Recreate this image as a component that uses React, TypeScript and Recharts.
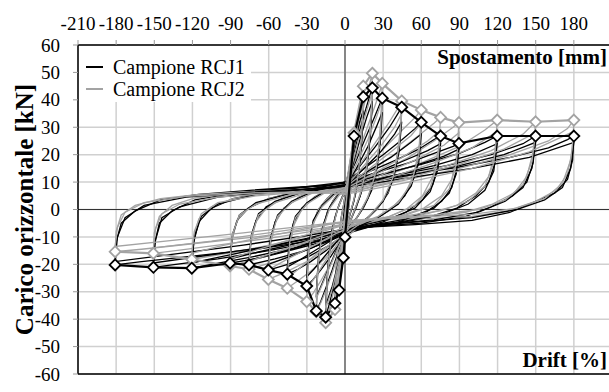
import { LineChart, Line, XAxis, YAxis, CartesianGrid, ReferenceLine, Legend } from "recharts";

type Pt = [number, number];

const serif = '"Liberation Serif", "Times New Roman", serif';

// displacement [mm] on the top axis, drift [%] on the bottom one, load [kN]
const mmTicks = [-210, -180, -150, -120, -90, -60, -30, 0, 30, 60, 90, 120, 150, 180];
const driftTicks = [-7, -6, -5, -4, -3, -2, -1, 0, 1, 2, 3, 4, 5, 6];
const loadTicks = [-60, -50, -40, -30, -20, -10, 0, 10, 20, 30, 40, 50, 60];

const specimens = ["Campione RCJ1", "Campione RCJ2"];
const colors = ["#000000", "#a3a3a3"];

// peak envelopes (mm, kN)
const rcj1Envelope: Pt[] = [
  [-180.8, -20.2], [-150.7, -21.1], [-120.5, -21.4], [-90.4, -19.6], [-75.5, -20.2],
  [-60.3, -22.1], [-45.4, -23.6], [-30.1, -27.9], [-22.6, -37], [-15.2, -39.3],
  [-7.9, -34.2], [-4.7, -29.4], [-1.3, -17.6], [0, -10.1], [7.1, 26.8], [14.4, 41.1],
  [21.5, 44.4], [29.3, 40.6], [44.6, 37.3], [60, 31.8], [75.2, 26.8], [89.6, 24.1],
  [119.7, 26.8], [149.9, 26.8], [180, 26.8],
];

const rcj2Envelope: Pt[] = [
  [-180.8, -15.4], [-150.7, -16], [-120.5, -18.2], [-90.4, -20.6], [-75.5, -21.8],
  [-60.3, -25.5], [-45.4, -28.7], [-30.1, -33.6], [-22.6, -37.3], [-15.2, -41.3],
  [-7.9, -36.5], [7.1, 28], [14.4, 45], [21.5, 49.7], [29.3, 46], [44.6, 39.6],
  [60, 36.3], [75.2, 33.6], [89.6, 31.7], [119.7, 32.6], [149.9, 32], [180, 32.6],
];

// first cycle at each drift level
const rcj1Loops: Pt[][] = [
  [[0, 3], [2, 8], [4, 13], [3, 6], [1.5, 0], [0, -5], [-1.5, -12], [-3, -20], [-4.7, -29.4], [-3.5, -17], [-2, -6], [-0.5, 0], [0, 3]],
  [[0, 5], [2, 11], [4, 17], [5.8, 22.5], [7.1, 26.8], [6.3, 17], [4.8, 8], [3, 1], [1, -5], [-1.5, -13], [-4, -21], [-6, -28], [-7.9, -34.2], [-6.8, -21], [-5, -10], [-3, -3], [-1, 2], [0, 5]],
  [[0, 7], [3, 14], [6.5, 23], [10, 31.5], [12.5, 37.5], [14.4, 41.1], [13.5, 28], [11.5, 16], [8.5, 6], [5, 0], [2, -5], [-1, -11], [-4.5, -19], [-8, -26.5], [-11.5, -33], [-15.2, -39.3], [-14, -25], [-11.5, -12], [-8, -3], [-4.5, 2], [-1.5, 5.5], [0, 7]],
  [[0, 8.5], [5, 17], [11, 28], [16, 36], [19.5, 41.5], [21.5, 44.4], [20.5, 31], [18, 18], [14, 8], [9, 1], [4, -4.5], [0, -9], [-5, -15], [-10, -22], [-15, -28.5], [-19, -33.5], [-22.6, -37], [-21.5, -22], [-18.5, -9], [-14, -1], [-9, 3.5], [-4, 6.5], [0, 8.5]],
  [[0, 9], [8, 17], [16, 26], [23, 33.5], [27, 38], [29.3, 40.6], [28, 28], [25.5, 16], [21, 7], [15, 1], [8, -4], [2, -8], [-4, -12], [-11, -17], [-19, -22], [-25, -25.5], [-30.1, -27.9], [-29, -16], [-26, -6], [-21, 0], [-14, 4], [-7, 7], [-2, 8.5], [0, 9]],
  [[0, 9.5], [12, 16], [24, 23], [35, 30], [41, 34.5], [44.6, 37.3], [43, 25], [39.5, 14], [34, 6], [25, 0], [14, -4.5], [4, -8], [-5, -11], [-15, -15], [-27, -19], [-37, -21.8], [-45.4, -23.6], [-44, -13], [-40.5, -5], [-34, 0.5], [-24, 4.5], [-12, 7.5], [-3, 9], [0, 9.5]],
  [[0, 10], [15, 15], [30, 20], [45, 25.5], [55, 29.5], [60, 31.8], [58.5, 21], [54.5, 12], [47, 5], [36, 0], [22, -4], [8, -7], [0, -9.5], [-12, -13], [-28, -17], [-45, -20], [-60.3, -22.1], [-59, -12], [-55, -4.5], [-48, 0.5], [-36, 4.5], [-20, 7.5], [-6, 9.2], [0, 10]],
  [[0, 10], [20, 14], [40, 18], [58, 22], [70, 25.5], [75.2, 26.8], [73.5, 17], [69, 9], [61, 3.5], [48, -1], [30, -4.5], [10, -7], [0, -9], [-15, -12], [-35, -15.5], [-55, -18], [-75.5, -20.2], [-74, -11], [-70, -4], [-62, 1], [-47, 4.5], [-28, 7], [-10, 8.8], [0, 10]],
  [[0, 10], [25, 13.5], [50, 17], [70, 20.5], [85, 23], [89.6, 24.1], [88, 15], [84, 8], [76, 3], [62, -1.5], [42, -4.5], [18, -6.5], [3, -8.5], [-15, -11.5], [-40, -14.5], [-65, -17.5], [-90.4, -19.6], [-89, -11], [-85, -4], [-76, 0.5], [-60, 4], [-38, 6.5], [-15, 8.5], [0, 10]],
  [[0, 9.5], [30, 13], [60, 16.5], [90, 20.5], [110, 24.5], [119.7, 26.8], [118, 17], [113, 10], [103, 5], [88, 0.5], [65, -3], [35, -5.5], [8, -7], [-10, -10], [-40, -14], [-75, -17.5], [-105, -20], [-120.5, -21.4], [-119, -12], [-115, -4.5], [-105, 0.5], [-88, 4], [-60, 6.5], [-30, 8.3], [0, 10]],
  [[0, 9], [40, 12.5], [80, 16], [115, 20], [140, 24], [149.9, 26.8], [148, 17], [143, 10], [132, 5], [115, 1], [95, -2.5], [60, -5], [20, -6.2], [3, -8], [-20, -11.5], [-60, -15], [-100, -18], [-130, -19.8], [-150.7, -21.1], [-150, -13], [-146, -5], [-136, -0.5], [-118, 3.5], [-90, 5.8], [-55, 7.3], [-20, 8.5], [0, 9.5]],
  [[0, 9], [40, 12], [90, 15.5], [130, 19], [160, 22.5], [175, 25.5], [180, 26.8], [179, 18], [175, 11], [165, 6], [150, 3], [130, -1], [100, -4], [55, -5.5], [15, -6.5], [3, -8], [-20, -11], [-70, -14.5], [-120, -17], [-160, -19], [-180.8, -20.2], [-180, -12], [-176, -5], [-165, -0.5], [-145, 3.5], [-115, 5.5], [-75, 7], [-35, 8.2], [-5, 9], [0, 9]],
];

// repeated cycle at each level, slightly degraded
const rcj1Repeats: Pt[][] = [
  [[0, 6], [4, 15], [8, 25], [11.5, 32], [14.4, 36], [13, 24], [10.5, 12], [7, 3], [3, -3], [-1, -10], [-5, -19], [-10, -28], [-15.2, -35], [-13.5, -21], [-10.5, -8], [-6, 0], [-2, 4.5], [0, 6]],
  [[0, 7.5], [6, 16], [12, 26], [17, 33.5], [21.5, 39.5], [20, 27], [17, 14], [12, 5], [6, -2], [0, -8], [-6, -14], [-12, -20.5], [-18, -27], [-22.6, -32], [-21, -18], [-17.5, -6], [-12, 1], [-5, 5.5], [0, 7.5]],
  [[0, 8], [9, 15], [18, 23], [25, 30.5], [29.3, 35.5], [27.5, 23], [24, 12], [18, 4], [10, -2.5], [2, -7], [-6, -11.5], [-15, -16.5], [-24, -21.5], [-30.1, -24.5], [-28.5, -13], [-25, -4], [-18, 1.5], [-9, 5.5], [0, 8]],
  [[0, 8.5], [14, 14.5], [28, 21], [39, 27.5], [44.6, 32], [42.5, 21], [38, 11], [30, 3], [18, -3], [5, -7], [-8, -10.5], [-22, -14.5], [-36, -18.5], [-45.4, -21], [-43.5, -10], [-39, -2.5], [-30, 2.5], [-16, 6.5], [0, 8.5]],
  [[0, 9], [18, 14], [36, 19], [52, 24.5], [60, 27.5], [58, 17], [52, 8.5], [42, 2], [26, -3], [9, -6.5], [-8, -10], [-26, -14], [-45, -17.5], [-60.3, -20], [-58.5, -10], [-53, -2], [-42, 3], [-24, 6.8], [0, 9]],
  [[0, 9], [22, 13], [45, 17.5], [65, 21.5], [75.2, 24], [73, 14.5], [67, 6.5], [55, 0.5], [35, -3.5], [12, -6], [-12, -10], [-35, -13.5], [-58, -16.5], [-75.5, -18.5], [-73.5, -9], [-68, -1.5], [-55, 3], [-32, 6.5], [0, 9]],
  [[0, 9], [28, 12.5], [55, 16], [78, 19.5], [89.6, 22], [87.5, 13], [82, 6], [70, 0.5], [48, -3.5], [20, -5.8], [-10, -9], [-40, -12.5], [-68, -15.5], [-90.4, -18], [-88.5, -9], [-83, -2], [-70, 2.5], [-42, 6], [0, 9]],
  [[0, 8.5], [35, 12], [70, 16], [100, 20], [119.7, 24], [117, 14], [110, 7], [97, 2], [75, -2], [40, -4.8], [5, -6.5], [-30, -10.5], [-70, -14.5], [-100, -17.5], [-120.5, -19.5], [-118.5, -10], [-113, -2.5], [-100, 2], [-70, 5.5], [-30, 7.5], [0, 8.5]],
  [[0, 8.5], [45, 12], [90, 16], [125, 20], [149.9, 24.5], [147, 15], [140, 8], [126, 3], [105, -1], [70, -3.8], [25, -5.5], [-15, -9.5], [-60, -13.5], [-105, -16.5], [-150.7, -19.5], [-149, -11], [-144, -3], [-130, 1], [-100, 4.5], [-55, 6.5], [0, 8.5]],
  [[0, 8], [50, 11.5], [100, 15], [145, 19], [180, 24.5], [177.5, 15], [171, 8], [157, 3.5], [135, 0], [100, -3], [50, -4.8], [8, -6.5], [-30, -9.5], [-80, -13], [-130, -16], [-180.8, -19], [-179, -10], [-173, -3], [-158, 1.5], [-125, 4.5], [-75, 6.3], [-25, 7.5], [0, 8]],
];

const rcj2Loops: Pt[][] = [
  [[0, 5], [2, 11.5], [4, 18], [5.8, 23.5], [7.1, 28], [6.3, 18], [4.8, 8.5], [3, 1], [1, -5.5], [-1.5, -14], [-4, -22.5], [-6, -30], [-7.9, -36.5], [-6.8, -22], [-5, -10.5], [-3, -3], [-1, 2], [0, 5]],
  [[0, 7], [3, 15], [6.5, 25], [10, 34], [12.5, 40.5], [14.4, 45], [13.5, 30], [11.5, 17], [8.5, 6.5], [5, 0], [2, -5.5], [-1, -12], [-4.5, -20], [-8, -28], [-11.5, -35], [-15.2, -41.3], [-14, -26], [-11.5, -13], [-8, -3.5], [-4.5, 2], [-1.5, 5.3], [0, 7]],
  [[0, 8], [5, 18], [11, 30], [16, 40], [19.5, 46], [21.5, 49.7], [20.5, 34], [18, 20], [14, 9], [9, 1.5], [4, -4.5], [0, -9.5], [-5, -16], [-10, -23], [-15, -29.5], [-19, -34], [-22.6, -37.3], [-21.5, -23], [-18.5, -10], [-14, -1.5], [-9, 3.5], [-4, 6.3], [0, 8]],
  [[0, 8.5], [8, 18], [16, 28], [23, 37], [27, 42.5], [29.3, 46], [28, 31], [25.5, 18], [21, 8], [15, 1.5], [8, -4], [2, -8.5], [-4, -13], [-11, -19.5], [-19, -26], [-25, -30.5], [-30.1, -33.6], [-29, -19], [-26, -7], [-21, 0], [-14, 4], [-7, 7], [-2, 8.2], [0, 8.5]],
  [[0, 9], [12, 16.5], [24, 24.5], [35, 32], [41, 36.5], [44.6, 39.6], [43, 27], [39.5, 15], [34, 6.5], [25, 0], [14, -5], [4, -9], [-5, -12.5], [-15, -17.5], [-27, -22.5], [-37, -26], [-45.4, -28.7], [-44, -16], [-40.5, -6], [-34, 0], [-24, 4.5], [-12, 7.5], [-3, 8.8], [0, 9]],
  [[0, 8.5], [15, 15], [30, 22], [45, 29], [55, 33.5], [60, 36.3], [58.5, 24], [54.5, 13], [47, 5.5], [36, 0], [22, -4], [8, -7], [0, -9], [-12, -13.5], [-28, -18.5], [-45, -22.5], [-60.3, -25.5], [-59, -14], [-55, -5], [-48, 0.5], [-36, 4.5], [-20, 7.5], [-6, 8.8], [0, 9]],
  [[0, 8], [20, 14], [40, 20.5], [58, 27], [70, 31.5], [75.2, 33.6], [73.5, 22], [69, 12], [61, 5], [48, 0], [30, -3.5], [10, -6], [0, -7.5], [-15, -11], [-35, -15.5], [-55, -19], [-75.5, -21.8], [-74, -12], [-70, -4.5], [-62, 0.5], [-47, 4.5], [-28, 7], [-10, 8.3], [0, 8.5]],
  [[0, 7.5], [25, 13], [50, 19], [70, 25], [85, 30], [89.6, 31.7], [88, 20], [84, 11], [76, 5], [62, 0.5], [42, -2.5], [18, -4.5], [3, -6], [-15, -9.5], [-40, -13.5], [-65, -17.5], [-90.4, -20.6], [-89, -11.5], [-85, -4], [-76, 0.5], [-60, 4], [-38, 6.3], [-15, 7.7], [0, 8]],
  [[0, 7], [30, 12], [60, 17], [90, 23], [110, 29], [119.7, 32.6], [118, 21], [113, 12], [103, 6], [88, 1.5], [65, -1.5], [35, -3.5], [8, -4.5], [-10, -7], [-40, -11], [-75, -14.5], [-105, -17], [-120.5, -18.2], [-119, -10], [-115, -3.5], [-105, 1], [-88, 4], [-60, 6], [-30, 7.2], [0, 7.5]],
  [[0, 6.5], [40, 11], [80, 16], [115, 21.5], [140, 27.5], [149.9, 32], [148, 21], [143, 12], [133, 6], [116, 2], [95, -1], [60, -3], [20, -4], [3, -5], [-20, -7.5], [-60, -10.5], [-100, -13], [-130, -14.8], [-150.7, -16], [-150, -8.5], [-146, -2.5], [-136, 1.5], [-118, 4.2], [-90, 5.8], [-55, 6.8], [-20, 7.3], [0, 7]],
  [[0, 6], [40, 10], [90, 15], [130, 20], [160, 25], [175, 29.5], [180, 32.6], [179, 22], [175, 13], [166, 7], [150, 3], [128, -0.5], [100, -2.5], [55, -3.5], [15, -4], [3, -5], [-20, -7], [-70, -10], [-120, -12.5], [-160, -14.5], [-180.8, -15.4], [-180, -8], [-176, -2], [-165, 1.5], [-145, 4], [-115, 5.5], [-75, 6.5], [-35, 7.3], [-5, 7.5], [0, 7]],
];

const rcj2Repeats: Pt[][] = [
  [[0, 6], [4, 15.5], [8, 26.5], [11.5, 34], [14.4, 39], [13, 26], [10.5, 13], [7, 3.5], [3, -3], [-1, -10.5], [-5, -19.5], [-10, -29], [-15.2, -36], [-13.5, -22], [-10.5, -9], [-6, 0], [-2, 4.5], [0, 6]],
  [[0, 7], [6, 17], [12, 28], [17, 36], [21.5, 43], [20, 29], [17, 15], [12, 5.5], [6, -2], [0, -8.5], [-6, -14.5], [-12, -21], [-18, -27.5], [-22.6, -32.5], [-21, -19], [-17.5, -7], [-12, 0.5], [-5, 5], [0, 7]],
  [[0, 7.5], [9, 16.5], [18, 25.5], [25, 34], [29.3, 40], [27.5, 26], [24, 13], [18, 4.5], [10, -2.5], [2, -7.5], [-6, -12.5], [-15, -18.5], [-24, -25], [-30.1, -29], [-28.5, -15], [-25, -5], [-18, 1], [-9, 5], [0, 7.5]],
  [[0, 8], [14, 15.5], [28, 23], [39, 30], [44.6, 35], [42.5, 23], [38, 12], [30, 3.5], [18, -3], [5, -7.5], [-8, -11.5], [-22, -16], [-36, -21.5], [-45.4, -25], [-43.5, -12], [-39, -3], [-30, 2], [-16, 6], [0, 8]],
  [[0, 8], [18, 14.5], [36, 21], [52, 27], [60, 31.5], [58, 19.5], [52, 9.5], [42, 2.5], [26, -2.5], [9, -5.5], [-8, -9], [-26, -13.5], [-45, -18], [-60.3, -22], [-58.5, -11], [-53, -2.5], [-42, 2.5], [-24, 6.3], [0, 8]],
  [[0, 7.5], [22, 13], [45, 19], [65, 25], [75.2, 29], [73, 17.5], [67, 8], [55, 1.5], [35, -2.5], [12, -4.8], [-12, -8.5], [-35, -12.5], [-58, -16], [-75.5, -19], [-73.5, -9.5], [-68, -2], [-55, 2.5], [-32, 5.8], [0, 7.5]],
  [[0, 7], [28, 12.5], [55, 18], [78, 23.5], [89.6, 28], [87.5, 16.5], [82, 7.5], [70, 1.5], [48, -2], [20, -3.8], [-10, -6.5], [-40, -10.5], [-68, -14.5], [-90.4, -18], [-88.5, -9], [-83, -2], [-70, 2], [-42, 5.5], [0, 7]],
  [[0, 6.5], [35, 11.5], [70, 17], [100, 22.5], [119.7, 28.5], [117, 17], [110, 8.5], [97, 3], [75, -0.5], [40, -2.8], [5, -4], [-30, -7], [-70, -10.5], [-100, -13.5], [-120.5, -16], [-118.5, -8], [-113, -1.5], [-100, 2.5], [-70, 5], [-30, 6.5], [0, 6.5]],
  [[0, 6], [45, 11], [90, 16.5], [125, 22], [149.9, 28], [147, 17.5], [140, 9], [126, 3.5], [105, 0], [70, -2], [25, -3.5], [-15, -5.5], [-60, -8.5], [-105, -11.5], [-150.7, -14], [-149, -7], [-144, -1.5], [-130, 2], [-100, 4.5], [-55, 6], [0, 6]],
  [[0, 5.5], [50, 10], [100, 15], [145, 21], [180, 28.5], [177.5, 18], [171, 9.5], [157, 4], [135, 0.5], [100, -1.8], [50, -3], [8, -4], [-30, -6], [-80, -8.5], [-130, -11], [-180.8, -13.5], [-179, -6.5], [-173, -1], [-158, 2.5], [-125, 4.8], [-75, 6], [-25, 6.5], [0, 5.5]],
];

const toRows = (pts: Pt[]) => pts.map(([x, y]) => ({ x, y }));

const diamond = (color: string) => (props: any) => {
  const { cx, cy, index } = props;
  if (cx == null || cy == null) return <g key={index} />;
  return (
    <path
      key={index}
      d={`M${cx},${cy - 5.5}L${cx + 5.5},${cy}L${cx},${cy + 5.5}L${cx - 5.5},${cy}Z`}
      fill="#fff"
      stroke={color}
      strokeWidth={1.8}
    />
  );
};

// serif tick text; dy shifts the baseline like Recharts' verticalAnchor
const serifTick = (dy: string) => (props: any) => {
  const { x, y, textAnchor, payload } = props;
  return (
    <text x={x} y={y} dy={dy} textAnchor={textAnchor} fontFamily={serif} fontSize={19} fill="#000">
      {payload.value}
    </text>
  );
};

const LegendBox = () => (
  <svg width={172} height={56} style={{ display: "block" }}>
    <rect x={0} y={0} width={172} height={56} fill="#fff" />
    {specimens.map((name, i) => (
      <g key={name}>
        <line x1={7} x2={24} y1={21 + i * 22} y2={21 + i * 22} stroke={colors[i]} strokeWidth={2} />
        <text x={34} y={27.5 + i * 22.5} fontFamily={serif} fontSize={20} fill="#000">
          {name}
        </text>
      </g>
    ))}
  </svg>
);

const loopLine = (pts: Pt[], color: string, key: string) => (
  <Line
    key={key}
    xAxisId="mm"
    yAxisId="kn"
    data={toRows(pts)}
    dataKey="y"
    type="linear"
    stroke={color}
    strokeWidth={1.3}
    dot={false}
    legendType="none"
    isAnimationActive={false}
  />
);

export default function App() {
  return (
    <div
      style={{
        position: "fixed",
        left: 0,
        top: 0,
        width: 609,
        height: 392,
        overflow: "hidden",
        background: "#fff",
      }}
    >
      <LineChart width={620} height={404} margin={{ top: 0, right: 8, bottom: 0, left: 0 }}>
        <CartesianGrid xAxisId="mm" yAxisId="kn" stroke="#d0d0d0" strokeWidth={1.5} />
        <XAxis
          xAxisId="mm"
          orientation="top"
          type="number"
          dataKey="x"
          domain={[-210, 210]}
          ticks={mmTicks}
          allowDataOverflow
          height={45}
          tick={serifTick("0")}
          tickSize={5}
          tickMargin={10}
          axisLine={{ stroke: "#000", strokeWidth: 1.5 }}
          tickLine={{ stroke: "#999" }}
          label={{
            content: (p: any) => {
              const vb = p.viewBox || { x: 78, y: 0, width: 534, height: 45 };
              return (
                <text x={vb.x + vb.width - 5} y={vb.y + vb.height + 19} textAnchor="end" fontFamily={serif} fontSize={21} fontWeight="bold" fill="#000">
                  Spostamento [mm]
                </text>
              );
            },
          }}
        />
        <XAxis
          xAxisId="drift"
          orientation="bottom"
          type="number"
          domain={[-7, 7]}
          ticks={driftTicks}
          allowDataOverflow
          height={30}
          tick={serifTick("0.71em")}
          tickSize={5}
          tickMargin={9}
          axisLine={{ stroke: "#000", strokeWidth: 1.5 }}
          tickLine={{ stroke: "#999" }}
          label={{
            content: (p: any) => {
              const vb = p.viewBox || { x: 78, y: 374, width: 534, height: 30 };
              return (
                <text x={vb.x + vb.width - 5} y={vb.y - 7} textAnchor="end" fontFamily={serif} fontSize={21} fontWeight="bold" fill="#000">
                  Drift [%]
                </text>
              );
            },
          }}
        />
        <YAxis
          yAxisId="kn"
          type="number"
          domain={[-60, 60]}
          ticks={loadTicks}
          allowDataOverflow
          width={78}
          tick={serifTick("0.35em")}
          tickSize={5}
          tickMargin={13}
          axisLine={{ stroke: "#000", strokeWidth: 1.5 }}
          tickLine={{ stroke: "#999" }}
          label={{
            content: (p: any) => {
              const vb = p.viewBox || { x: 0, y: 45, width: 78, height: 329 };
              const cy = vb.y + vb.height / 2;
              return (
                <text x={24} y={cy} transform={`rotate(-90 24 ${cy})`} textAnchor="middle" dominantBaseline="central" fontFamily={serif} fontSize={25} fontWeight="bold" fill="#000">
                  Carico orizzontale [kN]
                </text>
              );
            },
          }}
        />
        <ReferenceLine xAxisId="mm" yAxisId="kn" x={0} stroke="#4d4d4d" strokeWidth={1.2} />
        <ReferenceLine xAxisId="mm" yAxisId="kn" y={0} stroke="#333" strokeWidth={1.2} />

        {rcj1Loops.map((loop, i) => loopLine(loop, colors[0], `rcj1-${i}`))}
        {rcj2Loops.map((loop, i) => loopLine(loop, colors[1], `rcj2-${i}`))}
        {rcj1Repeats.map((loop, i) => loopLine(loop, colors[0], `rcj1r-${i}`))}
        {rcj2Repeats.map((loop, i) => loopLine(loop, colors[1], `rcj2r-${i}`))}

        <Line
          xAxisId="mm"
          yAxisId="kn"
          data={toRows(rcj2Envelope)}
          dataKey="y"
          type="linear"
          stroke={colors[1]}
          strokeWidth={2.2}
          dot={diamond(colors[1])}
          isAnimationActive={false}
        />
        <Line
          xAxisId="mm"
          yAxisId="kn"
          data={toRows(rcj1Envelope)}
          dataKey="y"
          type="linear"
          stroke={colors[0]}
          strokeWidth={2.2}
          dot={diamond(colors[0])}
          isAnimationActive={false}
        />
        <Legend
          verticalAlign="middle"
          align="center"
          content={() => <LegendBox />}
          wrapperStyle={{ left: 79, top: 46, width: 172, height: 56 }}
        />
      </LineChart>
    </div>
  );
}
